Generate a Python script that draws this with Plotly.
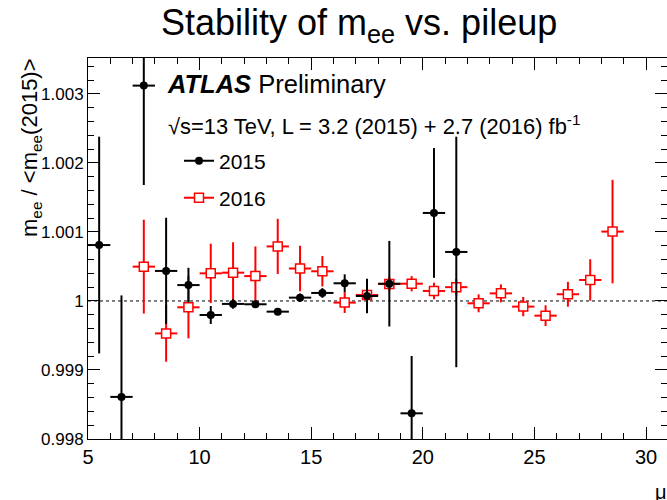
import plotly.graph_objects as go

# ---------------- data ----------------
x_2015 = [5.5, 6.5, 7.5, 8.5, 9.5, 10.5, 11.5, 12.5, 13.5, 14.5, 15.5, 16.5, 17.5, 18.5, 19.5, 20.5, 21.5]
y_2015 = [1.00081, 0.99861, 1.00312, 1.000435, 1.00023, 0.999797, 0.999957, 0.999952, 0.999845,
          1.000048, 1.000116, 1.000256, 1.000072, 1.00025, 0.998372, 1.001275, 1.00071]
e_2015 = [0.00157, 0.00147, 0.00144, 0.00077, 0.00025, 0.00013, 0.00007, 0.00005, 0.00004,
          0.00006, 0.00007, 0.00013, 0.00025, 0.00062, 0.00083, 0.00094, 0.00167]

x_2016 = [7.5, 8.5, 9.5, 10.5, 11.5, 12.5, 13.5, 14.5, 15.5, 16.5, 17.5, 18.5, 19.5, 20.5, 21.5,
          22.5, 23.5, 24.5, 25.5, 26.5, 27.5, 28.5]
y_2016 = [1.000497, 0.99953, 0.999908, 1.0004, 1.00041, 1.00036, 1.00079, 1.00047, 1.00043, 0.999976,
          1.000087, 1.000246, 1.00025, 1.000145, 1.0002, 0.999966, 1.00011, 0.999918, 0.999787,
          1.000097, 1.000304, 1.001005]
e_2016 = [0.00068, 0.00041, 0.00045, 0.00043, 0.00044, 0.00043, 0.0004, 0.00033, 0.00022, 0.00015,
          0.00012, 0.0001, 0.00011, 0.00012, 0.00012, 0.00013, 0.00013, 0.00014, 0.00015,
          0.00018, 0.0003, 0.00075]

bin_half_width = 0.5
x_ticks = [5, 10, 15, 20, 25, 30]
x_ticklabels = ["5", "10", "15", "20", "25", "30"]
y_ticks = [0.998, 0.999, 1.0, 1.001, 1.002, 1.003]
y_ticklabels = ["0.998", "0.999", "1", "1.001", "1.002", "1.003"]
x_range = [5, 30.94]
y_range = [0.998, 1.00352]

FONT = "Liberation Sans, Arial, Helvetica, sans-serif"
W, H = 667, 500
ML, MR, MT, MB = 88, 0, 58, 61
PW, PH = W - ML - MR, H - MT - MB


def px(xp):
    return (xp - ML) / PW


def py(yp):
    return (H - MB - yp) / PH


fig = go.Figure()

# 2016 (drawn first, below)
fig.add_trace(go.Scatter(
    x=x_2016, y=y_2016, mode="markers", showlegend=False,
    marker=dict(symbol="square", size=9, color="white", line=dict(color="#ff0000", width=1.5)),
    error_y=dict(type="data", array=e_2016, color="#ff0000", thickness=2, width=0),
    error_x=dict(type="constant", value=bin_half_width, color="#ff0000", thickness=2, width=0),
))
# 2015
fig.add_trace(go.Scatter(
    x=x_2015, y=y_2015, mode="markers", showlegend=False,
    marker=dict(symbol="circle", size=8, color="black"),
    error_y=dict(type="data", array=e_2015, color="black", thickness=2, width=0),
    error_x=dict(type="constant", value=bin_half_width, color="black", thickness=2, width=0),
))

# legend entries
fig.add_trace(go.Scatter(
    x=[None], y=[None], mode="lines+markers", name="2015", legend="legend",
    line=dict(color="black", width=2), marker=dict(symbol="circle", size=8, color="black"),
))
fig.add_trace(go.Scatter(
    x=[None], y=[None], mode="lines+markers", name="2016", legend="legend2",
    line=dict(color="#ff0000", width=2),
    marker=dict(symbol="square", size=9, color="white", line=dict(color="#ff0000", width=1.5)),
))

fig.add_shape(type="line", xref="paper", yref="y", x0=0, x1=1, y0=1.0, y1=1.0,
              line=dict(color="black", width=1, dash="dot"), layer="below")

axis_common = dict(
    showline=True, linecolor="black", linewidth=1, mirror="allticks",
    ticks="inside", tickcolor="black", tickwidth=1, ticklen=12,
    showgrid=False, zeroline=False,
)

fig.update_layout(
    width=W, height=H,
    margin=dict(l=ML, r=MR, t=MT, b=MB),
    paper_bgcolor="white", plot_bgcolor="white",
    font=dict(family=FONT, color="black"),
    xaxis=dict(axis_common, range=x_range, tickvals=x_ticks, ticktext=x_ticklabels,
               tickfont=dict(family=FONT, size=20, color="black"),
               minor=dict(dtick=1, ticks="inside", ticklen=6, tickcolor="black", showgrid=False)),
    yaxis=dict(axis_common, range=y_range, tickvals=y_ticks, ticktext=y_ticklabels,
               tickfont=dict(family=FONT, size=17, color="black"),
               minor=dict(dtick=0.0002, tick0=0.998, ticks="inside", ticklen=6, tickcolor="black",
                          showgrid=False)),
    legend=dict(x=px(179), y=py(161), xanchor="left", yanchor="middle",
                font=dict(family=FONT, size=21, color="black"), bgcolor="rgba(0,0,0,0)",
                itemwidth=30),
    legend2=dict(x=px(179), y=py(198), xanchor="left", yanchor="middle",
                 font=dict(family=FONT, size=21, color="black"), bgcolor="rgba(0,0,0,0)",
                 itemwidth=30),
    showlegend=True,
)

annots = [
    dict(text="Stability of m<sub>ee</sub> vs. pileup", x=px(359), y=py(25), xanchor="center",
         yanchor="middle", font=dict(size=36)),
    dict(text="<b><i>ATLAS</i></b> Preliminary", x=px(165), y=py(84), xanchor="left",
         yanchor="middle", font=dict(size=25.5)),
    dict(text="\u221As=13 TeV, L = 3.2 (2015) + 2.7 (2016) fb<sup>-1</sup>", x=px(166), y=py(125),
         xanchor="left", yanchor="middle", font=dict(size=21.9)),
    dict(text="m<sub>ee</sub> / &lt;m<sub>ee</sub>(2015)&gt;", x=px(31), y=py(148), xanchor="center",
         yanchor="middle", textangle=-90, font=dict(size=22)),
    dict(text="\u03bc", x=px(653), y=py(492), xanchor="left", yanchor="middle", font=dict(size=20)),
]
for a in annots:
    a.update(xref="paper", yref="paper", showarrow=False)
    a["font"] = dict(family=FONT, color="black", **a["font"])
    fig.add_annotation(**a)

fig.write_html("out.html")
